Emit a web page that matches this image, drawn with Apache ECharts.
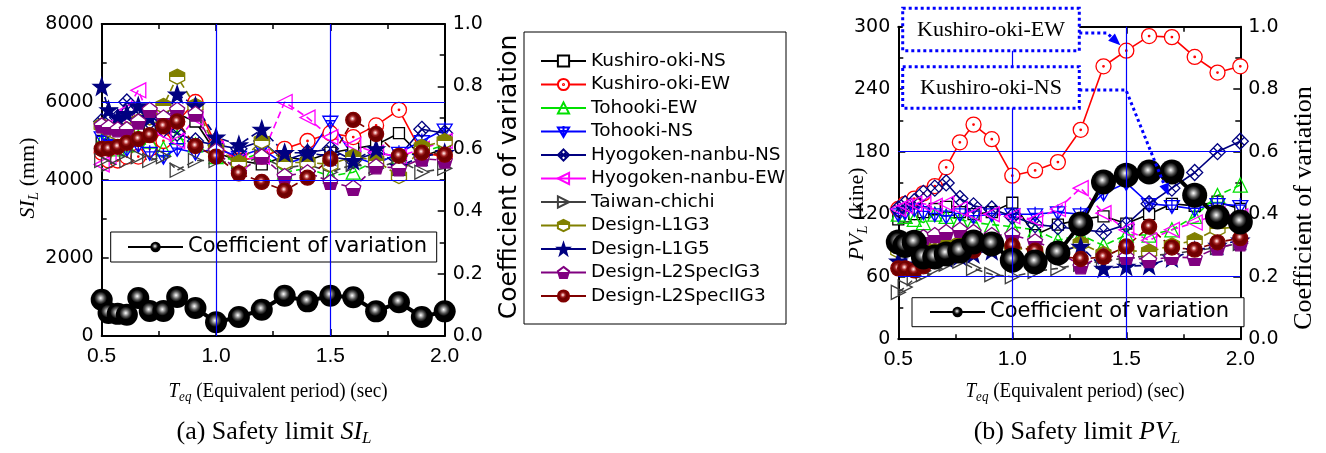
<!DOCTYPE html>
<html>
<head>
<meta charset="utf-8">
<script src="https://cdn.jsdelivr.net/npm/echarts@6/dist/echarts.min.js"></script>
<style>
html, body { margin: 0; padding: 0; background: #fff; }
#main { width: 1326px; height: 453px; }
</style>
</head>
<body>
<div id="main"></div>
<script>
// equivalent period (sec)
var periods = [0.5, 0.53, 0.57, 0.61, 0.66, 0.71, 0.77, 0.83, 0.91, 1.0, 1.1, 1.2, 1.3, 1.4, 1.5, 1.6, 1.7, 1.8, 1.9, 2.0];

// (a) safety limit SI_L (mm)
var siKushiroNS = [5000, 4900, 4800, 5100, 5200, 5300, 5400, 5700, 5500, 4700, 4500, 4400, 4600, 4500, 4700, 4800, 4900, 5200, 4600, 4800];
var siKushiroEW = [4700, 4500, 4500, 4600, 4600, 4800, 5000, 5500, 6000, 4900, 4500, 4600, 4800, 5000, 5200, 5100, 5400, 5800, 4700, 4600];
var siTohookiEW = [5000, 4900, 4800, 4900, 5100, 5000, 4800, 5100, 4900, 4600, 4500, 4700, 4200, 4300, 4100, 4200, 4500, 4600, 4700, 4900];
var siTohookiNS = [5100, 5000, 4900, 4800, 4900, 4700, 4600, 4800, 4700, 4800, 4600, 4800, 4400, 4600, 5500, 4600, 4400, 4700, 5000, 5300];
var siHyogoNS = [5500, 5300, 5600, 6000, 5700, 5500, 5300, 5200, 5000, 4900, 4800, 5000, 4500, 4700, 4800, 4500, 4700, 4600, 5300, 5200];
var siHyogoEW = [4400, 4600, 5500, 5800, 6300, 5600, 5200, 5000, 5600, 4800, 4500, 4600, 6000, 5600, 5100, 4900, 4700, 4600, 4800, 5000];
var siTaiwan = [4500, 4400, 4600, 4500, 4600, 4500, 4600, 4250, 4500, 4500, 4400, 4600, 4300, 4400, 4200, 4400, 4300, 4500, 4200, 4300];
var siL1G3 = [5400, 5300, 5200, 5300, 5500, 5600, 5900, 6650, 5900, 4800, 4450, 5000, 4450, 4450, 4400, 4600, 4500, 4100, 4850, 5000];
var siL1G5 = [6400, 5800, 5600, 5700, 5900, 5600, 5500, 6200, 5900, 5100, 4900, 5300, 4700, 4700, 4600, 4500, 4800, 4350, 4600, 4700];
var siL2SpecI = [5400, 5350, 5300, 5300, 5500, 5800, 5600, 5800, 5700, 4750, 4200, 4600, 4100, 4200, 3950, 3800, 4350, 4300, 4550, 4500];
var siL2SpecII = [4800, 4800, 4850, 4950, 5050, 5150, 5380, 5500, 4870, 4600, 4170, 3950, 3730, 4060, 4540, 5540, 5180, 4620, 4700, 4650];
var siCov = [0.116, 0.074, 0.071, 0.068, 0.122, 0.080, 0.080, 0.125, 0.090, 0.044, 0.061, 0.084, 0.129, 0.111, 0.129, 0.124, 0.079, 0.108, 0.061, 0.079];

// (b) safety limit PV_L (kine)
var pvKushiroNS = [115, 118, 120, 122, 125, 127, 122, 120, 122, 131, 100, 110, 115, 118, 111, 120, 130, 128, 132, 125];
var pvKushiroEW = [125, 130, 135, 140, 147, 165, 189, 206, 192, 157, 162, 170, 201, 262, 277, 291, 290, 271, 256, 262];
var pvTohookiEW = [120, 118, 115, 112, 120, 118, 115, 112, 110, 108, 105, 95, 100, 90, 100, 100, 105, 118, 138, 148];
var pvTohookiNS = [120, 122, 125, 122, 120, 118, 120, 118, 120, 120, 120, 122, 120, 140, 150, 130, 128, 125, 130, 128];
var pvHyogoNS = [125, 130, 132, 140, 145, 150, 135, 128, 125, 118, 110, 108, 105, 103, 110, 130, 145, 160, 180, 190];
var pvHyogoEW = [125, 128, 130, 130, 128, 130, 125, 120, 120, 118, 115, 125, 145, 121, 105, 95, 105, 112, 120, 118];
var pvTaiwan = [45, 50, 58, 62, 68, 72, 75, 68, 62, 60, 65, 68, 72, 75, 78, 80, 82, 85, 88, 92];
var pvL1G3 = [85, 88, 90, 88, 85, 90, 92, 95, 90, 88, 85, 80, 92, 82, 85, 84, 90, 95, 106, 108];
var pvL1G5 = [75, 72, 70, 75, 80, 78, 80, 82, 85, 80, 75, 85, 89, 68, 70, 71, 78, 85, 90, 95];
var pvL2SpecI = [90, 92, 95, 98, 100, 103, 105, 103, 100, 100, 94, 85, 70, 80, 79, 76, 79, 78, 88, 92];
var pvL2SpecII = [68, 68, 66, 70, 75, 80, 82, 85, 88, 90, 85, 80, 77, 79, 89, 108, 88, 86, 93, 97];
var pvCov = [0.311, 0.30, 0.31, 0.263, 0.263, 0.273, 0.282, 0.311, 0.305, 0.253, 0.247, 0.276, 0.369, 0.503, 0.525, 0.535, 0.535, 0.461, 0.391, 0.375];

// blue reference lines
var siRefX = [1.0, 1.5];
var siRefY = [4000, 6000];
var pvRefX = [1.0, 1.5];
var pvRefY = [60, 180];

var recordNames = ['Kushiro-oki-NS', 'Kushiro-oki-EW', 'Tohooki-EW', 'Tohooki-NS', 'Hyogoken-nanbu-NS', 'Hyogoken-nanbu-EW',
    'Taiwan-chichi', 'Design-L1G3', 'Design-L1G5', 'Design-L2SpecIG3', 'Design-L2SpecIIG3'];
var covName = 'Coefficient of variation';

var siSets = [siKushiroNS, siKushiroEW, siTohookiEW, siTohookiNS, siHyogoNS, siHyogoEW, siTaiwan, siL1G3, siL1G5, siL2SpecI, siL2SpecII];
var pvSets = [pvKushiroNS, pvKushiroEW, pvTohookiEW, pvTohookiNS, pvHyogoNS, pvHyogoEW, pvTaiwan, pvL1G3, pvL1G5, pvL2SpecI, pvL2SpecII];

// marker shapes
var symHex = 'path://M10,0 L18.66,5 L18.66,15 L10,20 L1.34,15 L1.34,5 Z';
var symPent = 'path://M10,0 L19.51,6.91 L15.88,18.09 L4.12,18.09 L0.49,6.91 Z';
var symStar = 'path://M10,0 L12.35,6.76 L19.51,6.91 L13.8,11.24 L15.88,18.09 L10,14 L4.12,18.09 L6.2,11.24 L0.49,6.91 L7.65,6.76 Z';
var symCircDot = 'path://M20,10 A10,10 0 1,1 0,10 A10,10 0 1,1 20,10 Z M11,10 A1,1 0 1,1 9,10 A1,1 0 1,1 11,10 Z';
var symTriDown = 'path://M0,3 L20,3 L10,20 Z M10,0 L10,20 M4,9 L16,9';
var symDiamondX = 'path://M10,0 L20,10 L10,20 L0,10 Z M5,5 L15,15 M15,5 L5,15';
var clear = 'rgba(255,255,255,0)';

function halfFill(c, topFilled) {
    var a = topFilled ? c : '#ffffff', b = topFilled ? '#ffffff' : c;
    return {
        type: 'linear', x: 0, y: 0, x2: 0, y2: 1,
        colorStops: [{offset: 0, color: a}, {offset: 0.5, color: a}, {offset: 0.5, color: b}, {offset: 1, color: b}]
    };
}
function ball(hi, mid, dark) {
    return {
        type: 'radial', x: 0.45, y: 0.42, r: 0.58,
        colorStops: [{offset: 0, color: '#ffffff'}, {offset: 0.12, color: hi}, {offset: 0.3, color: mid}, {offset: 0.5, color: dark}, {offset: 1, color: dark}]
    };
}

var looks = [
    {color: '#000000', symbol: 'rect', fill: '#ffffff', dash: 'solid', size: 11},
    {color: '#ff0000', symbol: symCircDot, fill: '#ffffff', dash: 'solid', size: 15},
    {color: '#00e000', symbol: 'triangle', fill: clear, dash: [7, 4], size: 14},
    {color: '#0000ff', symbol: symTriDown, fill: clear, dash: 'solid', size: 15},
    {color: '#000080', symbol: symDiamondX, fill: clear, dash: 'solid', size: 16},
    {color: '#ff00ff', symbol: 'triangle', rotate: 90, fill: clear, dash: [7, 4], size: 15},
    {color: '#404040', symbol: 'triangle', rotate: -90, fill: clear, dash: [7, 4], size: 14},
    {color: '#808000', symbol: symHex, fill: halfFill('#808000', true), dash: [7, 4], size: 15},
    {color: '#000080', symbol: symStar, fill: '#000080', dash: [7, 4], size: 17},
    {color: '#800080', symbol: symPent, fill: halfFill('#800080', false), dash: [7, 4], size: 15},
    {color: '#800000', symbol: 'circle', fill: ball('#e8a0a0', '#a02020', '#700000'), dash: [7, 4], size: 15}
];

function pairs(vals) {
    return periods.map(function (p, i) { return [p, vals[i]]; });
}

function recordSeries(idx, sets) {
    var out = [];
    recordNames.forEach(function (name, k) {
        var lk = looks[k];
        out.push({
            name: name,
            type: 'line',
            xAxisIndex: idx * 2,
            yAxisIndex: idx * 2,
            data: pairs(sets[k]),
            symbol: lk.symbol,
            symbolSize: lk.size,
            symbolRotate: lk.rotate || 0,
            lineStyle: {color: lk.color, width: 1.6, type: lk.dash},
            itemStyle: {color: lk.fill, borderColor: lk.color, borderWidth: 1.3},
            z: 3,
            animation: false
        });
    });
    return out;
}

function covSeries(idx, vals, size) {
    return {
        name: covName,
        type: 'line',
        xAxisIndex: idx * 2,
        yAxisIndex: idx * 2 + 1,
        data: pairs(vals),
        symbol: 'circle',
        symbolSize: size,
        lineStyle: {color: '#000000', width: 4},
        itemStyle: {color: ball('#bbbbbb', '#555555', '#000000'), borderWidth: 0},
        z: 3,
        animation: false
    };
}

function refSeries(idx, xs, ys) {
    var lines = xs.map(function (v) { return {xAxis: v}; }).concat(ys.map(function (v) { return {yAxis: v}; }));
    return {
        name: 'ref' + idx,
        type: 'line',
        xAxisIndex: idx * 2,
        yAxisIndex: idx * 2,
        data: [],
        z: 1,
        silent: true,
        markLine: {
            silent: true, symbol: 'none', animation: false,
            label: {show: false},
            lineStyle: {color: '#0000ff', width: 1.2, type: 'solid'},
            data: lines
        }
    };
}

var tickFont = 'DejaVu Sans';
var narrowFont = "'Liberation Sans Narrow', 'Arial Narrow', 'Liberation Sans', sans-serif";

function xAxisOf(grid, pos) {
    return {
        type: 'value', gridIndex: grid, position: pos,
        min: 0.5, max: 2.0, interval: 0.5,
        axisLine: {show: true, onZero: false, lineStyle: {color: '#000', width: 2}},
        axisTick: {show: true, inside: true, length: 7, lineStyle: {color: '#000', width: 1.5}},
        minorTick: {show: true, splitNumber: 2, length: 5, lineStyle: {color: '#000', width: 1.5}},
        axisLabel: {show: pos === 'bottom', margin: 10, fontSize: 21, fontFamily: narrowFont, color: '#000',
            formatter: function (v) { return v.toFixed(1); }},
        splitLine: {show: false}
    };
}
function yAxisOf(grid, pos, max, step, dec) {
    return {
        type: 'value', gridIndex: grid, position: pos,
        min: 0, max: max, interval: step,
        axisLine: {show: true, onZero: false, lineStyle: {color: '#000', width: 2}},
        axisTick: {show: true, inside: true, length: 7, lineStyle: {color: '#000', width: 1.5}},
        minorTick: {show: true, splitNumber: 2, length: 5, lineStyle: {color: '#000', width: 1.5}},
        axisLabel: {margin: 8, fontSize: 19, fontFamily: tickFont, color: '#000',
            formatter: function (v) { return dec ? v.toFixed(1) : String(v); }},
        splitLine: {show: false}
    };
}

var serifRich = {
    i: {fontFamily: 'Liberation Serif', fontStyle: 'italic', fontSize: 22, lineHeight: 26},
    s: {fontFamily: 'Liberation Serif', fontStyle: 'italic', fontSize: 15, lineHeight: 15, padding: [12, 0, 0, 0]},
    n: {fontFamily: 'Liberation Serif', fontSize: 22, lineHeight: 26}
};
var captionRich = {
    i: {fontFamily: 'Liberation Serif', fontStyle: 'italic', fontSize: 26, lineHeight: 30},
    s: {fontFamily: 'Liberation Serif', fontStyle: 'italic', fontSize: 17, lineHeight: 17, padding: [13, 0, 0, 0]},
    n: {fontFamily: 'Liberation Serif', fontSize: 26, lineHeight: 30}
};

var dom = document.getElementById('main');
var myChart = echarts.init(dom, null, {renderer: 'canvas'});

var option = {
    animation: false,
    backgroundColor: '#ffffff',
    grid: [
        {left: 101.7, top: 24, width: 343, height: 312},
        {left: 898.3, top: 26.7, width: 342, height: 312.5}
    ],
    xAxis: [xAxisOf(0, 'bottom'), xAxisOf(0, 'top'), xAxisOf(1, 'bottom'), xAxisOf(1, 'top')],
    yAxis: [yAxisOf(0, 'left', 8000, 2000, false), yAxisOf(0, 'right', 1, 0.2, true),
        yAxisOf(1, 'left', 300, 60, false), yAxisOf(1, 'right', 1, 0.2, true)],
    legend: [{
        data: recordNames, orient: 'vertical', left: 540, top: 51,
        itemWidth: 45, itemHeight: 14, itemGap: 3.5, padding: 0, selectedMode: false,
        lineStyle: {type: 'solid'},
        textStyle: {fontFamily: tickFont, fontSize: 18.5, lineHeight: 20, color: '#000'}
    }, {
        data: [covName], left: 127, top: 236, itemWidth: 55, itemHeight: 13, padding: 0, selectedMode: false,
        textStyle: {fontFamily: tickFont, fontSize: 21, lineHeight: 22, color: '#000'}
    }, {
        data: [covName], left: 929, top: 301, itemWidth: 55, itemHeight: 13, padding: 0, selectedMode: false,
        textStyle: {fontFamily: tickFont, fontSize: 21, lineHeight: 22, color: '#000'}
    }],
    series: [refSeries(0, siRefX, siRefY), refSeries(1, pvRefX, pvRefY)]
        .concat(recordSeries(0, siSets)).concat([covSeries(0, siCov, 22)])
        .concat(recordSeries(1, pvSets)).concat([covSeries(1, pvCov, 25)])
};
myChart.setOption(option);

// annotation arrows point at chart data
function px(v) { return myChart.convertToPixel({gridIndex: 1}, v); }
var ewPt = px([1.5, pvKushiroEW[14]]);
var nsPt = px([1.7, pvKushiroNS[16]]);
function arrow(from, to, back) {
    var dx = to[0] - from[0], dy = to[1] - from[1], len = Math.sqrt(dx * dx + dy * dy);
    var ux = dx / len, uy = dy / len;
    var tip = [to[0] - ux * back, to[1] - uy * back];
    var base = [tip[0] - ux * 12, tip[1] - uy * 12];
    return {tip: tip, head: [tip, [base[0] - uy * 5, base[1] + ux * 5], [base[0] + uy * 5, base[1] - ux * 5]], base: base};
}
var ewCorner = [1107, 33];
var nsCorner = [1126, 90];
var ewA = arrow(ewCorner, ewPt, 8);
var nsA = arrow(nsCorner, nsPt, 9);
var dotted = {stroke: '#0000ff', lineWidth: 3, lineDash: [3, 3], fill: null};

myChart.setOption({
    graphic: [
        // legend frames
        {type: 'rect', z: 3, shape: {x: 524, y: 32, width: 262, height: 292}, style: {fill: '#fff', stroke: '#000', lineWidth: 1}},
        {type: 'rect', z: 3, shape: {x: 110.7, y: 232, width: 326, height: 30}, style: {fill: '#fff', stroke: '#000', lineWidth: 1}},
        {type: 'rect', z: 3, shape: {x: 912, y: 297.7, width: 332, height: 29}, style: {fill: '#fff', stroke: '#000', lineWidth: 1}},
        // axis titles
        {type: 'text', x: 28, y: 178, rotation: Math.PI / 2,
            style: {text: '{i|SI}{s|L}{n| (mm)}', rich: serifRich, fill: '#000', align: 'center', verticalAlign: 'middle'}},
        {type: 'text', x: 509, y: 177, rotation: Math.PI / 2,
            style: {text: covName, fontFamily: tickFont, fontSize: 25, fill: '#000', align: 'center', verticalAlign: 'middle'}},
        {type: 'text', x: 857, y: 214, rotation: Math.PI / 2,
            style: {text: '{i|PV}{s|L}{n| (kine)}', rich: serifRich, fill: '#000', align: 'center', verticalAlign: 'middle'}},
        {type: 'text', x: 1304, y: 208, rotation: Math.PI / 2,
            style: {text: covName, fontFamily: 'Liberation Serif', fontSize: 26, fill: '#000', align: 'center', verticalAlign: 'middle'}},
        {type: 'text', x: 278, y: 391, scaleX: 0.87,
            style: {text: '{i|T}{s|eq}{n| (Equivalent period) (sec)}', rich: serifRich, fill: '#000', align: 'center', verticalAlign: 'middle'}},
        {type: 'text', x: 1075, y: 391, scaleX: 0.87,
            style: {text: '{i|T}{s|eq}{n| (Equivalent period) (sec)}', rich: serifRich, fill: '#000', align: 'center', verticalAlign: 'middle'}},
        // captions
        {type: 'text', x: 274, y: 432,
            style: {text: '{n|(a) Safety limit }{i|SI}{s|L}', rich: captionRich, fill: '#000', align: 'center', verticalAlign: 'middle'}},
        {type: 'text', x: 1077, y: 432,
            style: {text: '{n|(b) Safety limit }{i|PV}{s|L}', rich: captionRich, fill: '#000', align: 'center', verticalAlign: 'middle'}},
        // annotation boxes and arrows
        {type: 'rect', z: 10, shape: {x: 902.7, y: 8.3, width: 176.6, height: 42.4}, style: {fill: '#fff', stroke: '#0000ff', lineWidth: 3, lineDash: [3, 3]}},
        {type: 'text', z: 11, x: 991, y: 30, style: {text: 'Kushiro-oki-EW', fontFamily: 'Liberation Serif', fontSize: 22, fill: '#000', align: 'center', verticalAlign: 'middle'}},
        {type: 'rect', z: 10, shape: {x: 902.7, y: 66.7, width: 176.6, height: 41.6}, style: {fill: '#fff', stroke: '#0000ff', lineWidth: 3, lineDash: [3, 3]}},
        {type: 'text', z: 11, x: 991, y: 88, style: {text: 'Kushiro-oki-NS', fontFamily: 'Liberation Serif', fontSize: 22, fill: '#000', align: 'center', verticalAlign: 'middle'}},
        {type: 'polyline', z: 10, shape: {points: [[1079.3, 33], ewCorner, ewA.base]}, style: dotted},
        {type: 'polygon', z: 10, shape: {points: ewA.head}, style: {fill: '#0000ff'}},
        {type: 'polyline', z: 10, shape: {points: [[1079.3, 90], nsCorner, nsA.base]}, style: dotted},
        {type: 'polygon', z: 10, shape: {points: nsA.head}, style: {fill: '#0000ff'}}
    ]
});
window.onresize = myChart.resize;
</script>
</body>
</html>
